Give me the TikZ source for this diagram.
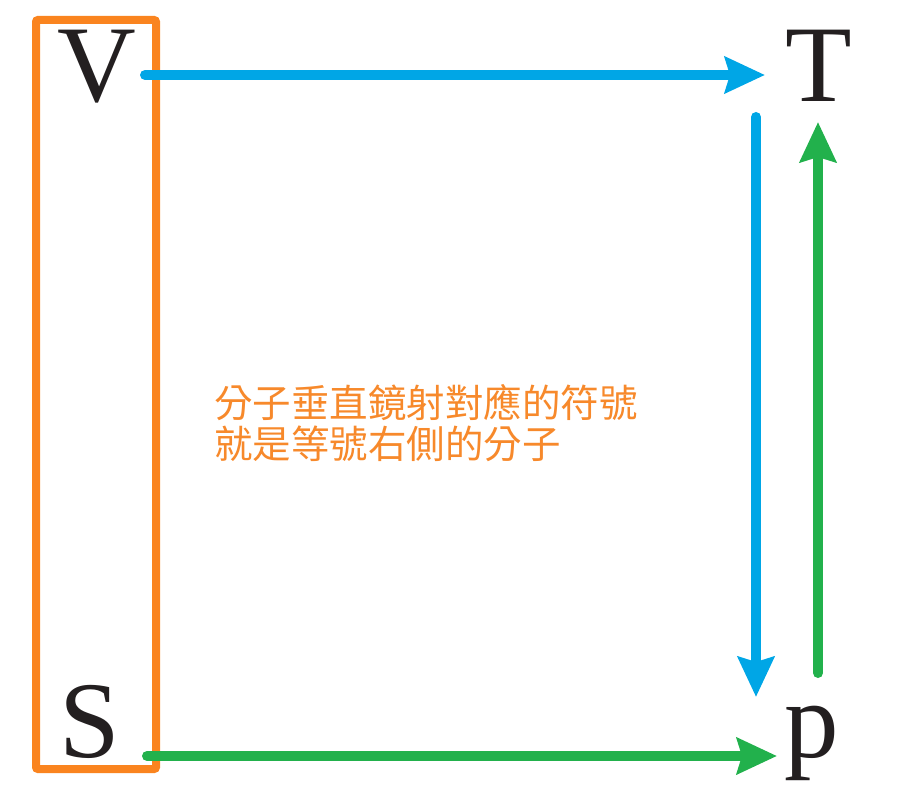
\documentclass[tikz,border=0pt]{standalone}
\usepackage{fontspec}
\setmainfont{Liberation Serif}
\newfontfamily\cjk{Noto Sans CJK TC}
\usetikzlibrary{arrows.meta}
\definecolor{myblue}{HTML}{00A6E6}
\definecolor{mygreen}{HTML}{22B14C}
\definecolor{myorange}{HTML}{FA841F}
\definecolor{textorange}{HTML}{F7892B}
\definecolor{ink}{HTML}{231F20}
\tikzset{
  letter/.style={inner sep=0pt, anchor=base, text=ink, font=\fontsize{109}{120}\selectfont},
  conn/.style={line width=10pt, line cap=round, -{Stealth[length=40pt, width=36pt, inset=5pt]}},
}
\begin{document}
\begin{tikzpicture}[x=1pt,y=-1pt]
\useasboundingbox (0,0) rectangle (910,791);
\draw[myorange, line width=8pt, rounded corners=2pt] (36,20) rectangle (156,769);
\node[letter] (V) at (97,102) {V};
\node[letter] (T) at (819,102) {T};
\node[letter] (S) at (90,757) {S};
\node[letter] (p) at (812,757) {p};
\coordinate (vs) at (145,75);
\coordinate (te) at (765,75);
\coordinate (ts) at (756,117);
\coordinate (pe) at (756,697);
\coordinate (ps) at (818,673);
\coordinate (tb) at (818,122);
\coordinate (ss) at (147,756);
\coordinate (pw) at (777,756);
\draw[conn, myblue] (vs) -- (te);
\draw[conn, myblue] (ts) -- (pe);
\draw[conn, mygreen] (ps) -- (tb);
\draw[conn, mygreen] (ss) -- (pw);
\node[inner sep=0pt, anchor=north west, align=left, text=textorange, font=\cjk\fontsize{38.5}{41}\selectfont] (note) at (214,384) {分子垂直鏡射對應的符號\\就是等號右側的分子};
\end{tikzpicture}
\end{document}
